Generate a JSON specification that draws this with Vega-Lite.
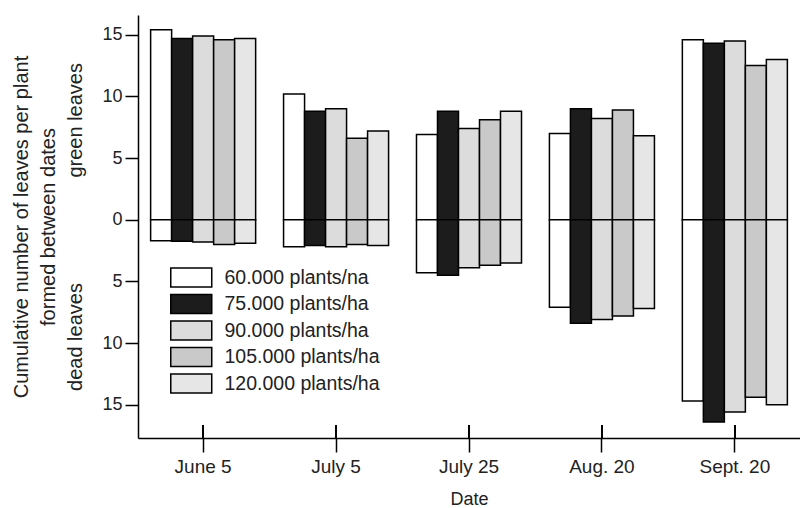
{
  "$schema": "https://vega.github.io/schema/vega-lite/v6.json",
  "width": 662,
  "height": 423,
  "autosize": {"type": "none"},
  "padding": {"left": 138, "top": 15, "right": 0, "bottom": 70},
  "background": "white",
  "config": {
    "font": "Liberation Sans",
    "view": {"stroke": null},
    "axis": {"domainColor": "black", "tickColor": "black", "labelColor": "#222", "titleColor": "#222", "labelFont": "Liberation Sans", "titleFont": "Liberation Sans", "titleFontWeight": "normal", "domainWidth": 1.5, "tickWidth": 1.5, "grid": false}
  },
  "data": {
    "values": [
      {"date": "June 5", "density": "60.000 plants/na", "type": "green", "value": 15.4},
      {"date": "June 5", "density": "75.000 plants/ha", "type": "green", "value": 14.7},
      {"date": "June 5", "density": "90.000 plants/ha", "type": "green", "value": 14.9},
      {"date": "June 5", "density": "105.000 plants/ha", "type": "green", "value": 14.6},
      {"date": "June 5", "density": "120.000 plants/ha", "type": "green", "value": 14.7},
      {"date": "June 5", "density": "60.000 plants/na", "type": "dead", "value": -1.7},
      {"date": "June 5", "density": "75.000 plants/ha", "type": "dead", "value": -1.75},
      {"date": "June 5", "density": "90.000 plants/ha", "type": "dead", "value": -1.8},
      {"date": "June 5", "density": "105.000 plants/ha", "type": "dead", "value": -2.0},
      {"date": "June 5", "density": "120.000 plants/ha", "type": "dead", "value": -1.9},
      {"date": "July 5", "density": "60.000 plants/na", "type": "green", "value": 10.2},
      {"date": "July 5", "density": "75.000 plants/ha", "type": "green", "value": 8.8},
      {"date": "July 5", "density": "90.000 plants/ha", "type": "green", "value": 9.0},
      {"date": "July 5", "density": "105.000 plants/ha", "type": "green", "value": 6.6},
      {"date": "July 5", "density": "120.000 plants/ha", "type": "green", "value": 7.2},
      {"date": "July 5", "density": "60.000 plants/na", "type": "dead", "value": -2.2},
      {"date": "July 5", "density": "75.000 plants/ha", "type": "dead", "value": -2.1},
      {"date": "July 5", "density": "90.000 plants/ha", "type": "dead", "value": -2.2},
      {"date": "July 5", "density": "105.000 plants/ha", "type": "dead", "value": -2.0},
      {"date": "July 5", "density": "120.000 plants/ha", "type": "dead", "value": -2.1},
      {"date": "July 25", "density": "60.000 plants/na", "type": "green", "value": 6.9},
      {"date": "July 25", "density": "75.000 plants/ha", "type": "green", "value": 8.8},
      {"date": "July 25", "density": "90.000 plants/ha", "type": "green", "value": 7.4},
      {"date": "July 25", "density": "105.000 plants/ha", "type": "green", "value": 8.1},
      {"date": "July 25", "density": "120.000 plants/ha", "type": "green", "value": 8.8},
      {"date": "July 25", "density": "60.000 plants/na", "type": "dead", "value": -4.3},
      {"date": "July 25", "density": "75.000 plants/ha", "type": "dead", "value": -4.5},
      {"date": "July 25", "density": "90.000 plants/ha", "type": "dead", "value": -3.9},
      {"date": "July 25", "density": "105.000 plants/ha", "type": "dead", "value": -3.7},
      {"date": "July 25", "density": "120.000 plants/ha", "type": "dead", "value": -3.5},
      {"date": "Aug. 20", "density": "60.000 plants/na", "type": "green", "value": 7.0},
      {"date": "Aug. 20", "density": "75.000 plants/ha", "type": "green", "value": 9.0},
      {"date": "Aug. 20", "density": "90.000 plants/ha", "type": "green", "value": 8.2},
      {"date": "Aug. 20", "density": "105.000 plants/ha", "type": "green", "value": 8.9},
      {"date": "Aug. 20", "density": "120.000 plants/ha", "type": "green", "value": 6.8},
      {"date": "Aug. 20", "density": "60.000 plants/na", "type": "dead", "value": -7.1},
      {"date": "Aug. 20", "density": "75.000 plants/ha", "type": "dead", "value": -8.4},
      {"date": "Aug. 20", "density": "90.000 plants/ha", "type": "dead", "value": -8.1},
      {"date": "Aug. 20", "density": "105.000 plants/ha", "type": "dead", "value": -7.8},
      {"date": "Aug. 20", "density": "120.000 plants/ha", "type": "dead", "value": -7.2},
      {"date": "Sept. 20", "density": "60.000 plants/na", "type": "green", "value": 14.6},
      {"date": "Sept. 20", "density": "75.000 plants/ha", "type": "green", "value": 14.3},
      {"date": "Sept. 20", "density": "90.000 plants/ha", "type": "green", "value": 14.5},
      {"date": "Sept. 20", "density": "105.000 plants/ha", "type": "green", "value": 12.5},
      {"date": "Sept. 20", "density": "120.000 plants/ha", "type": "green", "value": 13.0},
      {"date": "Sept. 20", "density": "60.000 plants/na", "type": "dead", "value": -14.7},
      {"date": "Sept. 20", "density": "75.000 plants/ha", "type": "dead", "value": -16.4},
      {"date": "Sept. 20", "density": "90.000 plants/ha", "type": "dead", "value": -15.6},
      {"date": "Sept. 20", "density": "105.000 plants/ha", "type": "dead", "value": -14.4},
      {"date": "Sept. 20", "density": "120.000 plants/ha", "type": "dead", "value": -15.0}
    ]
  },
  "encoding": {
    "x": {
      "field": "date", "type": "nominal",
      "sort": ["June 5", "July 5", "July 25", "Aug. 20", "Sept. 20"],
      "scale": {"paddingInner": 0.21, "paddingOuter": 0.095},
      "axis": {"title": "Date", "labelAngle": 0, "labelFontSize": 19, "titleFontSize": 18, "tickSize": 14, "labelPadding": 5, "titlePadding": 14, "bandPosition": 0.5}
    }
  },
  "layer": [
    {
      "mark": {"type": "bar", "stroke": "black", "strokeWidth": 1.5},
      "encoding": {
        "xOffset": {
          "field": "density", "type": "nominal",
          "sort": ["60.000 plants/na", "75.000 plants/ha", "90.000 plants/ha", "105.000 plants/ha", "120.000 plants/ha"],
          "scale": {"paddingInner": 0, "paddingOuter": 0}
        },
        "y": {
          "field": "value", "type": "quantitative",
          "scale": {"domain": [-17.7, 16.6], "nice": false, "zero": false},
          "axis": {
            "values": [-15, -12.5, -10, -7.5, -5, -2.5, 0, 2.5, 5, 7.5, 10, 12.5, 15],
            "labelExpr": "datum.value % 5 === 0 ? format(abs(datum.value), 'd') : ''",
            "tickSize": {"condition": {"test": "datum.value % 5 === 0", "value": 13}, "value": 7},
            "labelPadding": 3,
            "labelFontSize": 18,
            "title": ["Cumulative number of leaves per plant", "formed between dates", "dead leaves\u00a0\u00a0\u00a0\u00a0\u00a0\u00a0\u00a0\u00a0\u00a0\u00a0\u00a0\u00a0\u00a0\u00a0\u00a0\u00a0\u00a0\u00a0\u00a0green leaves"],
            "titleFontSize": 20,
            "titleLineHeight": 27,
            "titlePadding": 16
          }
        },
        "color": {
          "field": "density", "type": "nominal",
          "sort": ["60.000 plants/na", "75.000 plants/ha", "90.000 plants/ha", "105.000 plants/ha", "120.000 plants/ha"],
          "scale": {"range": ["#ffffff", "#1c1c1c", "#dcdcdc", "#c9c9c9", "#e6e6e6"]},
          "legend": {
            "title": null,
            "orient": "none",
            "legendX": 42.25,
            "legendY": 251.5,
            "symbolType": "M-2,-0.92H2V0.92H-2Z",
            "symbolSize": 420,
            "symbolStrokeColor": "black",
            "symbolStrokeWidth": 1.5,
            "symbolOpacity": 1,
            "labelFontSize": 19.5,
            "labelColor": "#222",
            "labelOffset": 22.25,
            "rowPadding": 0.5,
            "labelLimit": 300
          }
        }
      }
    },
    {
      "mark": {"type": "rule", "stroke": "black", "strokeWidth": 1.5},
      "encoding": {
        "y": {"datum": -17.7},
        "y2": {"datum": -16.65}
      }
    }
  ]
}
